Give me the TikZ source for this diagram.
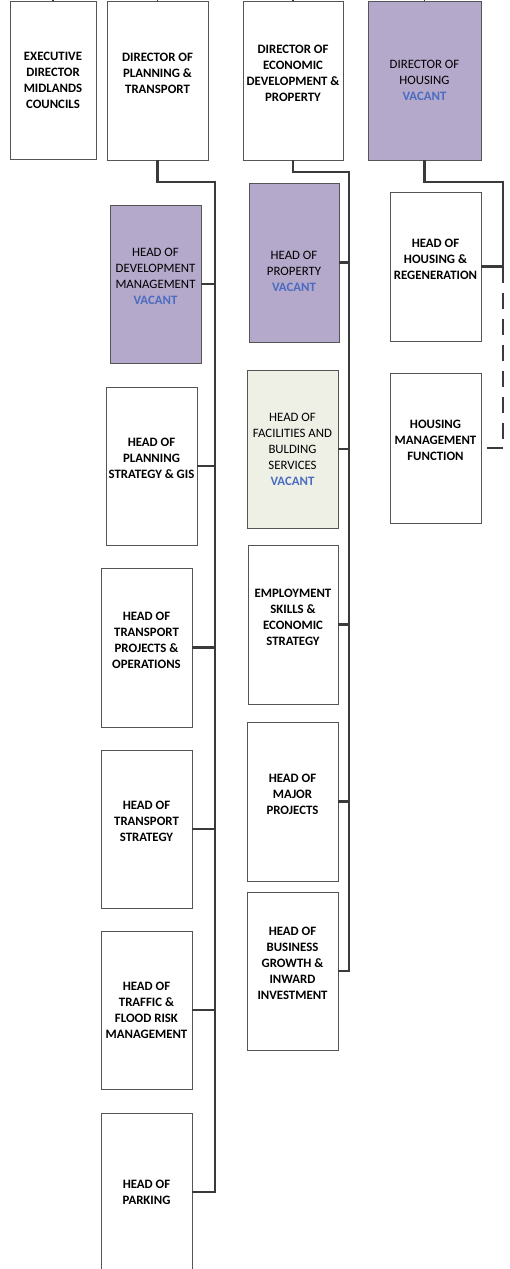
\documentclass[tikz,border=0pt]{standalone}
\usepackage{fontspec}
\setmainfont{Carlito}
\usetikzlibrary{positioning}
\definecolor{vacantfill}{HTML}{B4A8CB}
\definecolor{vacantblue}{HTML}{4A6CC0}
\definecolor{facfill}{HTML}{EEF0E6}
\definecolor{boxline}{HTML}{555555}
\definecolor{connline}{HTML}{3A3A3A}
\newcommand{\vacant}{\\\textbf{\color{vacantblue}VACANT}}

\begin{document}
\begin{tikzpicture}[x=1pt, y=-1pt,
    post/.style={draw=boxline, line width=0.9pt, fill=white, align=center, inner sep=1pt,
      font=\fontsize{12.8}{16}\selectfont\bfseries, minimum width=91pt, minimum height=158pt},
    vacantpost/.style={post, fill=vacantfill, font=\fontsize{12.8}{16}\selectfont},
    textup/.style={text depth=15pt},
    conn/.style={draw=connline, line width=2.8pt},
    dashconn/.style={conn, dash pattern=on 16pt off 10pt}]

  \useasboundingbox (0,0) rectangle (509,1269);

  % Directors
  \node[post, minimum width=86pt] (exec) at (53,80) {EXECUTIVE\\DIRECTOR\\MIDLANDS\\COUNCILS};
  \node[post, textup, minimum width=101pt, minimum height=159pt] (dpt) at (157.5,80.5) {DIRECTOR OF\\PLANNING \&\\TRANSPORT};
  \node[post, textup, minimum width=100pt, minimum height=159pt] (ded) at (293,80.5) {DIRECTOR OF\\ECONOMIC\\DEVELOPMENT \&\\PROPERTY};
  \node[vacantpost, minimum width=113pt, minimum height=159pt] (dh) at (424.5,80.5) {DIRECTOR OF\\HOUSING\vacant};

  % Planning & transport
  \node[vacantpost, textup] (dev) at (155.5,284) {HEAD OF\\DEVELOPMENT\\MANAGEMENT\vacant};
  \node[post, textup] (pls) at (151.5,466) {HEAD OF\\PLANNING\\STRATEGY \& GIS};
  \node[post, textup, minimum height=159pt] (tpo) at (146.5,647.5) {HEAD OF\\TRANSPORT\\PROJECTS \&\\OPERATIONS};
  \node[post, textup] (tst) at (146.5,829) {HEAD OF\\TRANSPORT\\STRATEGY};
  \node[post] (tfr) at (146.5,1010) {HEAD OF\\TRAFFIC \&\\FLOOD RISK\\MANAGEMENT};
  \node[post] (park) at (146.5,1192) {HEAD OF\\PARKING};

  % Economic development & property
  \node[vacantpost, minimum width=90pt, minimum height=159pt] (prop) at (294,262.5) {{}\\[10pt]HEAD OF\\PROPERTY\vacant};
  \node[vacantpost, fill=facfill] (fac) at (292.5,449) {HEAD OF\\FACILITIES AND\\BULDING\\SERVICES\vacant};
  \node[post, textup, minimum width=90pt, minimum height=159pt] (emp) at (293,624.5) {EMPLOYMENT\\SKILLS \&\\ECONOMIC\\STRATEGY};
  \node[post, textup, minimum height=159pt] (maj) at (292.5,801.5) {HEAD OF\\MAJOR\\PROJECTS};
  \node[post, textup] (bus) at (292.5,971) {HEAD OF\\BUSINESS\\GROWTH \&\\INWARD\\INVESTMENT};

  % Housing
  \node[post, textup, minimum height=149pt] (hhr) at (435.5,266.5) {HEAD OF\\HOUSING \&\\REGENERATION};
  \node[post, textup, minimum height=150pt] (hmf) at (435.5,448) {HOUSING\\MANAGEMENT\\FUNCTION};

  % Spines
  \coordinate (pspine) at (215,182);
  \coordinate (espine) at (349,172);
  \coordinate (hspine) at (503,182);

  \draw[conn] (dpt.south) |- (pspine) |- (park.east);
  \foreach \n in {dev,pls,tpo,tst,tfr}
    \draw[conn] (\n.east) -- (\n.east -| pspine);

  \draw[conn] (ded.south) |- (espine) |- (bus.east);
  \foreach \n in {prop,fac,emp,maj}
    \draw[conn] (\n.east) -- (\n.east -| espine);

  \draw[conn] (dh.south) |- (hspine) |- (hhr.east);
  \draw[dashconn] (hhr.east -| hspine) |- (hmf.east);

  % Lines from above
  \foreach \n in {exec,dpt,ded,dh}
    \draw[conn, line width=1.5pt] (\n.north) -- ++(0,-4);
\end{tikzpicture}
\end{document}
